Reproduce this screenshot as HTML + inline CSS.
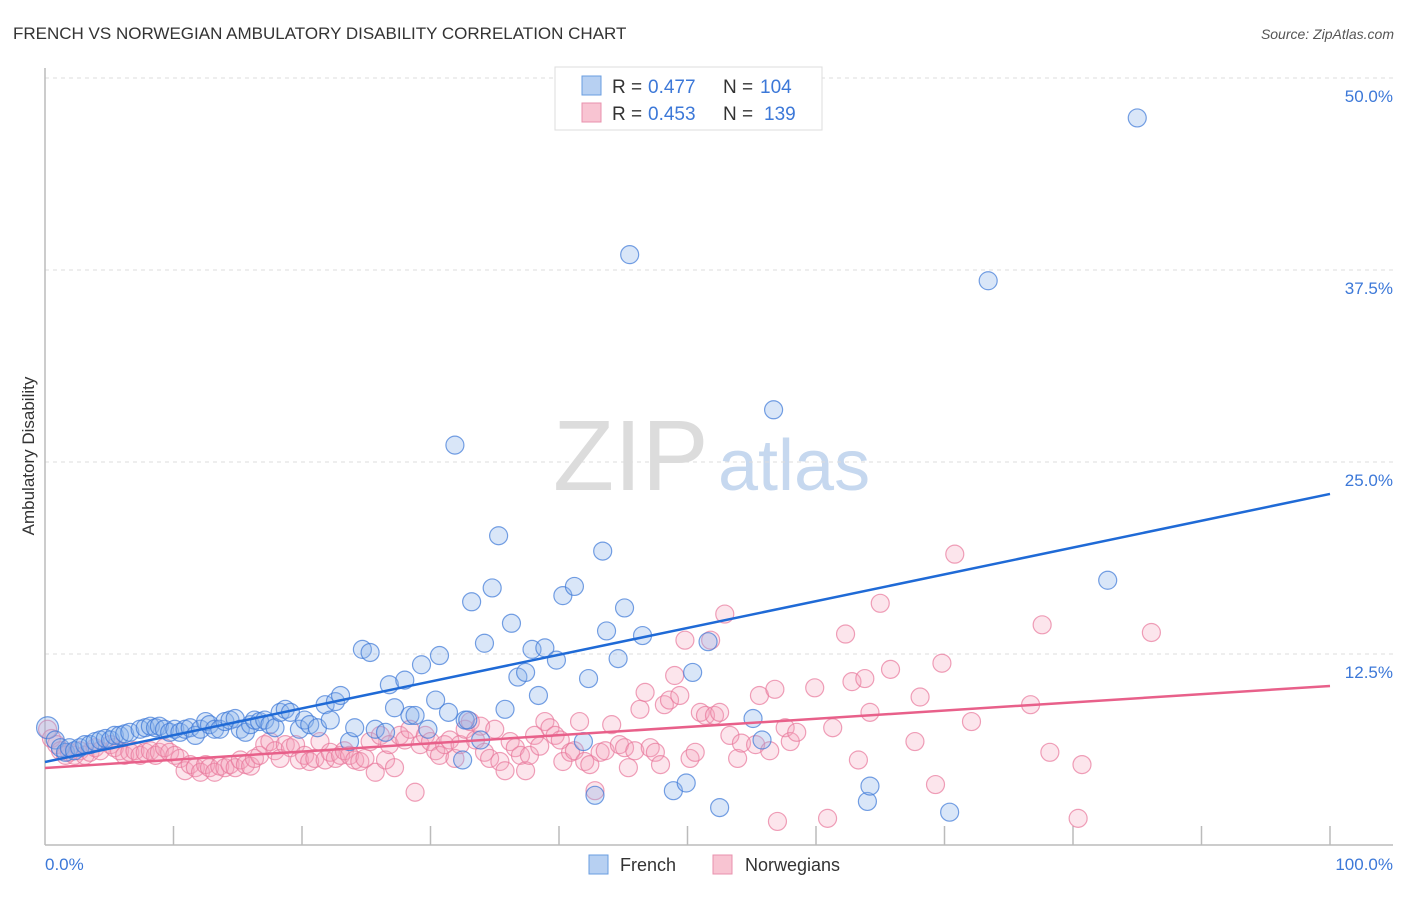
<!DOCTYPE html>
<html><head><meta charset="utf-8"><style>
body{margin:0;background:#fff;font-family:"Liberation Sans",sans-serif;}
svg text{font-family:"Liberation Sans",sans-serif;}
</style></head><body>
<svg id="chart" width="1406" height="892" xmlns="http://www.w3.org/2000/svg">
<text x="13" y="39" font-size="17" fill="#333">FRENCH VS NORWEGIAN AMBULATORY DISABILITY CORRELATION CHART</text>
<text x="1394" y="39" font-size="14" font-style="italic" fill="#555" text-anchor="end">Source: ZipAtlas.com</text>
<g>
<text x="553" y="490" font-size="100" font-family="Liberation Serif" fill="#dcdcdc">ZIP</text>
<text x="718" y="490" font-size="72" fill="#c6d8ef">atlas</text>
</g>
<g id="grid"></g>
<line x1="45" y1="68" x2="45" y2="845" stroke="#bbb" stroke-width="1.5"/>
<line x1="45" y1="845" x2="1393" y2="845" stroke="#bbb" stroke-width="1.5"/>
<g id="xticks"></g>
<text transform="translate(34,456) rotate(-90)" font-size="17" fill="#333" text-anchor="middle">Ambulatory Disability</text>
<text x="45" y="870" font-size="17" fill="#3c78d8">0.0%</text>
<text x="1393" y="870" font-size="17" fill="#3c78d8" text-anchor="end">100.0%</text>
<g id="points"></g>
<g id="lines"></g>
<g>
<rect x="555" y="67" width="267" height="63" fill="#fff" stroke="#ddd"/>
<rect x="582" y="76" width="19" height="19" fill="#b7d0f2" stroke="#6a9ee0"/>
<rect x="582" y="103" width="19" height="19" fill="#f8c4d2" stroke="#e891ad"/>
<text x="612" y="93" font-size="19" fill="#333">R =</text>
<text x="648" y="93" font-size="19" fill="#3c78d8">0.477</text>
<text x="723" y="93" font-size="19" fill="#333">N =</text>
<text x="760" y="93" font-size="19" fill="#3c78d8">104</text>
<text x="612" y="120" font-size="19" fill="#333">R =</text>
<text x="648" y="120" font-size="19" fill="#3c78d8">0.453</text>
<text x="723" y="120" font-size="19" fill="#333">N =</text>
<text x="764" y="120" font-size="19" fill="#3c78d8">139</text>
</g>
<g>
<rect x="589" y="855" width="19" height="19" fill="#b7d0f2" stroke="#6a9ee0"/>
<text x="620" y="871" font-size="18" fill="#333">French</text>
<rect x="713" y="855" width="19" height="19" fill="#f8c4d2" stroke="#e891ad"/>
<text x="745" y="871" font-size="18" fill="#333">Norwegians</text>
</g>
</svg>
<script>
const frenchX=[0.2,0.8,1.2,1.6,1.9,2.3,2.7,3.1,3.5,3.9,4.3,4.7,5.1,5.4,5.8,6.2,6.6,7.4,7.8,8.2,8.6,8.9,9.3,9.7,10.1,10.5,10.9,11.3,11.7,12.1,12.5,12.8,13.2,13.6,14.0,14.4,14.8,15.2,15.6,16.0,16.3,16.7,17.1,17.5,17.9,18.3,18.7,19.1,19.8,20.2,20.6,21.2,21.8,22.2,22.6,23.0,23.7,24.1,24.7,25.3,25.7,26.5,26.8,27.2,28.0,28.4,28.8,29.3,29.8,30.4,30.7,31.4,31.9,32.7,32.5,32.9,33.2,33.9,34.2,34.8,35.3,35.8,36.3,36.8,37.4,37.9,38.4,38.9,39.8,40.3,41.2,41.9,42.3,42.8,43.4,43.7,44.6,45.1,45.5,46.5,48.9,49.9,50.4,51.6,52.5,55.1,55.8,56.7,64.0,64.2,70.4,73.4,82.7,85.0];
const frenchY=[7.7,6.9,6.4,6.1,6.4,6.2,6.4,6.6,6.6,6.8,6.9,7.0,6.9,7.2,7.2,7.3,7.4,7.6,7.7,7.8,7.7,7.8,7.6,7.4,7.6,7.4,7.6,7.7,7.2,7.6,8.1,7.9,7.6,7.6,8.1,8.2,8.3,7.6,7.4,7.9,8.2,8.1,8.2,7.9,7.7,8.7,8.9,8.7,7.6,8.2,7.9,7.7,9.2,8.2,9.4,9.8,6.8,7.7,12.8,12.6,7.6,7.4,10.5,9.0,10.8,8.5,8.5,11.8,7.6,9.5,12.4,8.7,26.1,8.2,5.6,8.2,15.9,6.9,13.2,16.8,20.2,8.9,14.5,11.0,11.3,12.8,9.8,12.9,12.1,16.3,16.9,6.8,10.9,3.3,19.2,14.0,12.2,15.5,38.5,13.7,3.6,4.1,11.3,13.3,2.5,8.3,6.9,28.4,2.9,3.9,2.2,36.8,17.3,47.4];
const norX=[0.2,0.5,0.9,1.2,1.6,1.9,2.3,2.7,3.1,3.5,3.9,4.3,5.1,5.4,5.8,6.2,6.6,7.0,7.4,7.8,8.2,8.6,8.9,9.3,9.7,10.1,10.5,10.9,11.3,11.7,12.1,12.5,12.8,13.2,13.6,14.0,14.4,14.8,15.2,15.6,16.0,16.3,16.7,17.1,17.5,17.9,18.3,18.7,19.1,19.5,19.8,20.2,20.6,21.0,21.4,21.8,22.2,22.6,23.0,23.3,23.7,24.1,24.5,24.9,25.3,25.7,26.1,26.5,26.8,27.2,27.6,28.0,28.4,28.8,29.2,29.6,30.0,30.4,30.7,31.1,31.5,31.9,32.3,32.7,33.1,33.5,33.9,34.2,34.6,35.0,35.4,35.8,36.2,36.6,37.0,37.4,37.7,38.1,38.5,38.9,39.3,39.7,40.1,40.3,40.9,41.2,41.6,42.0,42.4,42.8,43.2,43.6,44.1,44.7,45.1,45.4,45.9,46.3,46.7,47.1,47.5,47.9,48.2,48.6,49.0,49.4,49.8,50.2,50.6,51.0,51.4,51.8,52.1,52.5,52.9,53.3,53.9,54.2,55.3,55.6,56.4,56.8,57.0,57.6,58.0,58.5,59.9,60.9,61.3,62.3,62.8,63.3,63.8,64.2,65.0,65.8,67.7,68.1,69.3,69.8,70.8,72.1,76.7,77.6,78.2,80.4,80.7,86.1];
const norY=[7.6,7.0,6.6,6.2,5.9,6.1,5.9,6.2,5.9,6.1,6.4,6.2,6.6,6.4,6.2,5.9,6.1,6.2,5.9,6.1,6.2,5.9,6.1,6.4,6.1,5.9,5.7,4.9,5.3,5.1,4.8,5.3,5.1,4.8,5.2,5.1,5.3,5.1,5.6,5.3,5.2,5.7,5.9,6.6,6.8,6.2,5.7,6.6,6.4,6.6,5.6,5.9,5.5,5.7,6.8,5.6,6.1,5.7,5.9,6.2,5.9,5.6,5.5,5.7,6.8,4.8,7.2,5.6,6.6,5.1,7.2,6.9,7.6,3.5,6.6,7.2,6.8,6.2,5.9,6.6,6.9,5.7,6.6,7.6,8.1,6.9,7.8,6.1,5.7,7.6,5.5,4.9,6.8,6.4,5.9,4.9,5.9,7.2,6.5,8.1,7.7,7.2,6.9,5.5,6.1,6.2,8.1,5.5,5.3,3.6,6.1,6.2,7.9,6.6,6.4,5.1,6.2,8.9,10.0,6.4,6.1,5.3,9.2,9.5,11.1,9.8,13.4,5.7,6.1,8.7,8.5,13.4,8.5,8.7,15.1,7.2,5.7,6.7,6.6,9.8,6.2,10.2,1.6,7.7,6.8,7.4,10.3,1.8,7.7,13.8,10.7,5.6,10.9,8.7,15.8,11.5,6.8,9.7,4.0,11.9,19.0,8.1,9.2,14.4,6.1,1.8,5.3,13.9];
const yTicks=[12.5,25.0,37.5,50.0];
const yTickLabels=["12.5%","25.0%","37.5%","50.0%"];
const xTicks=[10,20,30,40,50,60,70,80,90,100];
const frenchTrend=[5.47,22.92];
const norTrend=[5.08,10.42];
const NS="http://www.w3.org/2000/svg";
function sx(v){return 45+v*12.85;}
function sy(v){return 846-v*15.36;}
function mk(tag,attrs,parent){const e=document.createElementNS(NS,tag);for(const k in attrs)e.setAttribute(k,attrs[k]);parent.appendChild(e);return e;}
const grid=document.getElementById('grid');
yTicks.forEach((t,i)=>{
 const l=mk('line',{x1:45,x2:1393,y1:sy(t),y2:sy(t),stroke:'#ddd','stroke-dasharray':'4,4'},grid);
 
 
 const tx=mk('text',{x:1393,y:sy(t)+24,'font-size':17,fill:'#3c78d8','text-anchor':'end'},grid);
 tx.textContent=yTickLabels[i];
 
 
});
const xt=document.getElementById('xticks');
xTicks.forEach(t=>{
 const l=mk('line',{x1:sx(t),x2:sx(t),y1:826,y2:845,stroke:'#bbb','stroke-width':1.5},xt);
 
 
});
const pts=document.getElementById('points');
norX.forEach((x,i)=>{
 const c=mk('circle',{cx:sx(x),cy:sy(norY[i]),r:9,fill:'rgba(244,160,185,0.28)',stroke:'rgba(232,120,155,0.7)','stroke-width':1.2},pts);
 
 
});
frenchX.forEach((x,i)=>{
 const c=mk('circle',{cx:sx(x),cy:sy(frenchY[i]),r:(i===0?11:9),fill:'rgba(140,180,235,0.33)',stroke:'rgba(60,120,215,0.7)','stroke-width':1.2},pts);
 
 
});
const ln=document.getElementById('lines');
const fl=mk('line',{x1:sx(0),y1:sy(frenchTrend[0]),x2:sx(100),y2:sy(frenchTrend[1]),stroke:'#1f6ad6','stroke-width':2.5},ln);


const nl=mk('line',{x1:sx(0),y1:sy(norTrend[0]),x2:sx(100),y2:sy(norTrend[1]),stroke:'#e8608a','stroke-width':2.5},ln);


</script>
</body></html>
